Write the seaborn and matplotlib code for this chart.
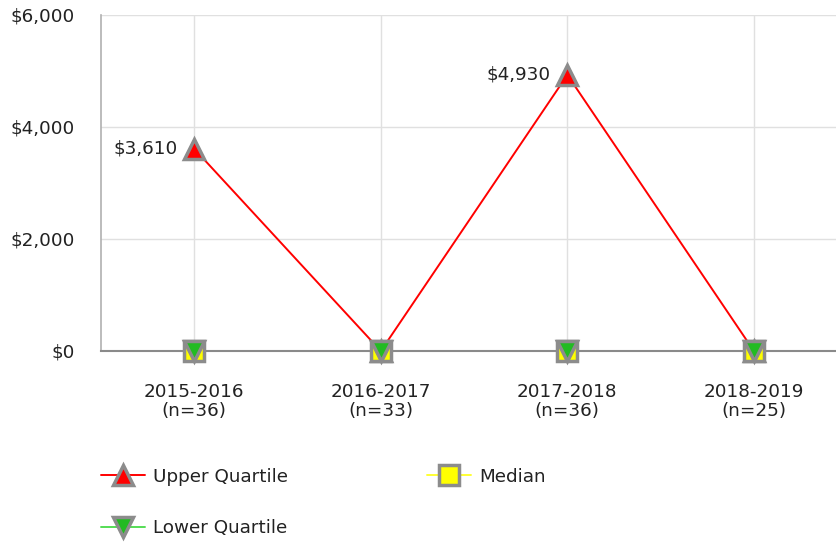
import matplotlib
matplotlib.use('Agg')
import matplotlib.pyplot as plt
from matplotlib.lines import Line2D
import seaborn as sns
import pandas as pd
from matplotlib.ticker import FuncFormatter

# data
years = ['2015-2016', '2016-2017', '2017-2018', '2018-2019']
counts = [36, 33, 36, 25]
upper = [3610, 0, 4930, 0]
median = [0, 0, 0, 0]
lower = [0, 0, 0, 0]

sns.set_style('whitegrid')
plt.rcParams['font.family'] = ['DejaVu Sans']
FS = 13.2
EDGE = '#8c8c8c'

fig = plt.figure(figsize=(8.36, 5.43), dpi=100)
ax = fig.add_axes([101 / 836, 1 - 351 / 543, 1 - 101 / 836, 336 / 543])

pos = list(range(len(years)))
series = [
    ('Upper Quartile', upper, 'red', '^', 'red'),
    ('Median', median, '#ffff00', 's', '#ffff33'),
    ('Lower Quartile', lower, '#22bb22', 'v', '#55dd55'),
]
handles = []
for i, (name, vals, face, mk, lc) in enumerate(series):
    df = pd.DataFrame({'x': pos, 'y': vals})
    # line below the axis line, markers above it
    sns.lineplot(data=df, x='x', y='y', ax=ax, color=lc, linewidth=1.4,
                 zorder=2, legend=False)
    sns.lineplot(data=df, x='x', y='y', ax=ax, color=lc, linestyle='',
                 marker=mk, markersize=15, markerfacecolor=face,
                 markeredgecolor=EDGE, markeredgewidth=2.5,
                 clip_on=False, zorder=4 + i, legend=False)
    handles.append(Line2D([], [], color=lc, linewidth=1.4, marker=mk,
                          markersize=15, markerfacecolor=face,
                          markeredgecolor=EDGE, markeredgewidth=2.5, label=name))

# value labels on upper quartile
for x, v in zip(pos, upper):
    if v > 0:
        ax.text(x - 0.09, v, '${:,}'.format(v), ha='right', va='center',
                fontsize=FS, color='#222222')

ax.set_xlim(-0.5, 3.44)
ax.set_ylim(0, 6000)
ax.set_yticks([0, 2000, 4000, 6000])
ax.yaxis.set_major_formatter(FuncFormatter(lambda v, p: '${:,.0f}'.format(v)))
ax.set_xticks(pos)
ax.set_xticklabels(['{}\n(n={})'.format(y, n) for y, n in zip(years, counts)],
                   linespacing=1.1)
ax.set_xlabel('')
ax.set_ylabel('')

ax.grid(True, color='#e0e0e0', linewidth=1)
for s in ['top', 'right']:
    ax.spines[s].set_visible(False)
ax.spines['left'].set_color('#b0b0b0')
ax.spines['left'].set_linewidth(1.2)
ax.spines['bottom'].set_color('#8a8a8a')
ax.spines['bottom'].set_linewidth(1.5)
ax.spines['bottom'].set_zorder(3)
ax.tick_params(axis='y', length=8, color='#b0b0b0', width=1.2, labelsize=FS,
               labelcolor='#222222', pad=11)
ax.tick_params(axis='x', length=0, labelsize=FS, labelcolor='#222222', pad=23)

# column-major fill: Upper / Lower in col 1, Median in col 2
order = [0, 2, 1]
fig.legend([handles[i] for i in order], [handles[i].get_label() for i in order],
           loc='upper left', bbox_to_anchor=(84 / 836, 1 - 451 / 543),
           ncol=2, frameon=False, fontsize=FS, handlelength=2.4,
           handletextpad=0.45, columnspacing=7.6, labelspacing=1.85,
           labelcolor='#222222')

fig.savefig('out.png', dpi=100)
